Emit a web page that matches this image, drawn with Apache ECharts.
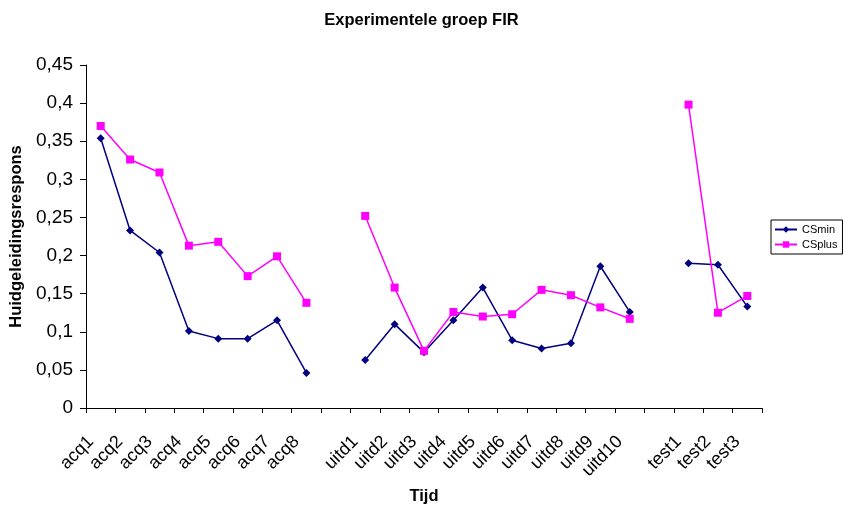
<!DOCTYPE html>
<html>
<head>
<meta charset="utf-8">
<script src="https://cdn.jsdelivr.net/npm/echarts@6/dist/echarts.min.js"></script>
<style>html,body{margin:0;padding:0;background:#fff}#c{width:843px;height:510px}</style>
</head>
<body>
<div id="c"></div>
<script>
const categories = ['acq1','acq2','acq3','acq4','acq5','acq6','acq7','acq8','',
  'uitd1','uitd2','uitd3','uitd4','uitd5','uitd6','uitd7','uitd8','uitd9','uitd10','',
  'test1','test2','test3'];
const csMin = [0.354,0.233,0.204,0.101,0.091,0.091,0.115,0.046,null,
  0.063,0.110,0.073,0.115,0.158,0.089,0.078,0.085,0.186,0.126,null,
  0.190,0.188,0.133];
const csPlus = [0.370,0.326,0.309,0.213,0.218,0.173,0.199,0.138,null,
  0.252,0.158,0.075,0.126,0.120,0.123,0.155,0.148,0.132,0.117,null,
  0.398,0.125,0.147];
const yTicks = {min:0, max:0.45, interval:0.05};

const chart = echarts.init(document.getElementById('c'), null, {renderer:'canvas'});
const font = 'Liberation Sans, Arial, sans-serif';
chart.setOption({
  animation:false,
  backgroundColor:'#fff',
  title:{text:'Experimentele groep FIR', left:'center', top:7,
    textStyle:{fontFamily:font, fontSize:16.5, fontWeight:'bold', color:'#000'}},
  grid:{left:84, right:81, top:65, bottom:101, containLabel:false},
  legend:{orient:'vertical', left:771, top:220, padding:[4,5,4,3], itemGap:4,
    itemWidth:22, itemHeight:8, borderColor:'#000', borderWidth:1,
    textStyle:{fontFamily:font, fontSize:11, color:'#000'},
    data:['CSmin','CSplus']},
  xAxis:{type:'category', data:categories, boundaryGap:true,
    name:'Tijd', nameLocation:'middle', nameGap:80,
    nameTextStyle:{fontFamily:font, fontSize:16.5, fontWeight:'bold', color:'#000'},
    axisLine:{lineStyle:{color:'#000', width:1}},
    axisTick:{show:true, length:5, inside:false, lineStyle:{color:'#000'}},
    axisLabel:{rotate:45, interval:0, margin:21, padding:[0,14,0,0],
      fontFamily:font, fontSize:18, color:'#000'},
    splitLine:{show:false}},
  yAxis:{type:'value', min:yTicks.min, max:yTicks.max, interval:yTicks.interval,
    name:'Huidgeleidingsrespons', nameLocation:'middle', nameGap:61,
    nameTextStyle:{fontFamily:font, fontSize:16.5, fontWeight:'bold', color:'#000'},
    axisLine:{show:true, lineStyle:{color:'#000', width:1}},
    axisTick:{show:true, length:6, lineStyle:{color:'#000'}},
    axisLabel:{margin:13, fontFamily:font, fontSize:19, color:'#000',
      formatter:v=>String(Math.round(v*100)/100).replace('.',',')},
    splitLine:{show:false}},
  series:[
    {name:'CSmin', type:'line', data:csMin, connectNulls:false,
      symbol:'diamond', symbolSize:8, showAllSymbol:true,
      lineStyle:{color:'#000080', width:1.5}, itemStyle:{color:'#000080'}},
    {name:'CSplus', type:'line', data:csPlus, connectNulls:false,
      symbol:'rect', symbolSize:8, showAllSymbol:true,
      lineStyle:{color:'#FF00FF', width:1.5}, itemStyle:{color:'#FF00FF'}}
  ]
});
</script>
</body>
</html>
